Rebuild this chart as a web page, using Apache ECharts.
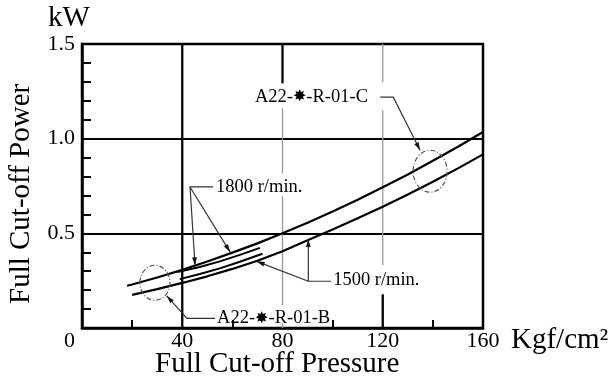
<!DOCTYPE html>
<html>
<head>
<meta charset="utf-8">
<script src="https://cdn.jsdelivr.net/npm/echarts@6/dist/echarts.min.js"></script>
<style>
  html, body { margin: 0; padding: 0; background: #fff; }
  #c { width: 612px; height: 384px; }
</style>
</head>
<body>
<div id="c"></div>
<script>
// Full cut-off power vs. full cut-off pressure (A22 pumps)
const xTickValues = [0, 40, 80, 120, 160];
const yTickValues = [0, 0.5, 1.0, 1.5];

// A22-R-01-C, full range
const pressure1800 = [18, 20, 30, 40, 50, 60, 70, 80, 90, 100, 110, 120, 130, 140, 150, 160];
const power1800 = [0.223, 0.230, 0.267, 0.307, 0.351, 0.398, 0.447, 0.500, 0.556, 0.615, 0.677, 0.743, 0.811, 0.883, 0.957, 1.035];
const pressure1500 = [20, 30, 40, 50, 60, 70, 80, 90, 100, 110, 120, 130, 140, 150, 160];
const power1500 = [0.175, 0.205, 0.238, 0.273, 0.312, 0.355, 0.405, 0.463, 0.520, 0.580, 0.641, 0.705, 0.772, 0.843, 0.917];

// A22-R-01-B, short range
const pressureB1800 = [38, 47, 55, 63, 71];
const powerB1800 = [0.295, 0.322, 0.352, 0.386, 0.423];
const pressureB1500 = [39, 47, 55, 63, 72];
const powerB1500 = [0.258, 0.285, 0.315, 0.350, 0.392];

// vertical rule pieces [pressure, fromPower, toPower]
const solidRules = [[40, 0, 1.5], [80, 1.5, 1.292], [120, 0.178, 0]];
const faintRules = [[80, 1.161, 0.817], [80, 0.696, 0.120], [80, 0.025, 0], [120, 1.5, 1.298], [120, 1.15, 0.331]];

// group rings [pressure, power]
const ringCentres = [[29.1, 0.239], [138.9, 0.828]];

// callout leaders, points in [pressure, power]; arrowhead at the last point
const callouts = [
  [[119.0, 1.219], [124.2, 1.219], [134.9, 0.939]],
  [[52.3, 0.745], [43.1, 0.745], [45.1, 0.331]],
  [[43.1, 0.745], [59.1, 0.401]],
  [[99.4, 0.247], [90.3, 0.247], [90.3, 0.470]],
  [[90.3, 0.247], [69.7, 0.352]],
  [[53.1, 0.051], [41.9, 0.051], [33.8, 0.170]]
];

const noteTexts = ['A22-{s|✸}-R-01-C', '1800 r/min.', '1500 r/min.', 'A22-{s|✸}-R-01-B'];
const noteAnchors = [[69.0, 1.219], [53.5, 0.746], [100.2, 0.252], [53.9, 0.051]];

const serif = '"Liberation Serif", "Times New Roman", serif';
const zip = (xs, ys) => xs.map((x, i) => [x, ys[i]]);

const chart = echarts.init(document.getElementById('c'), null, { renderer: 'canvas' });

function ruleSeries(rules, colour, width) {
  return {
    type: 'custom',
    silent: true,
    z: 1,
    data: rules.map(r => [r[0], r[1]]),
    renderItem: (params, api) => {
      const r = rules[params.dataIndex];
      const a = api.coord([r[0], r[1]]);
      const b = api.coord([r[0], r[2]]);
      return {
        type: 'line',
        shape: { x1: a[0], y1: a[1], x2: b[0], y2: b[1] },
        style: { stroke: colour, lineWidth: width }
      };
    }
  };
}

function curve(xs, ys, width) {
  return {
    type: 'line',
    data: zip(xs, ys),
    showSymbol: false,
    symbol: 'none',
    silent: true,
    z: 5,
    lineStyle: { color: '#000', width: width }
  };
}

chart.setOption({
  animation: false,
  grid: {
    left: 82, right: 129, top: 44, bottom: 56,
    show: true, borderColor: '#000', borderWidth: 2.5, backgroundColor: 'transparent'
  },
  xAxis: {
    type: 'value', min: 0, max: 160, interval: 40,
    axisLine: { lineStyle: { color: '#000', width: 2.5 } },
    axisTick: { show: false, inside: true },
    minorTick: { show: true, splitNumber: 2, length: 8, lineStyle: { color: '#000', width: 2 } },
    splitLine: { show: false },
    axisLabel: {
      margin: 2, color: '#000', fontFamily: serif, fontSize: 22,
      formatter: v => xTickValues.includes(v) ? (v === 0 ? '{z|0}' : String(v)) : '',
      rich: { z: { fontFamily: serif, fontSize: 22, color: '#000', padding: [0, 25, 0, 0] } }
    }
  },
  yAxis: {
    type: 'value', min: 0, max: 1.5, interval: 0.5,
    axisLine: { lineStyle: { color: '#000', width: 2.5 } },
    axisTick: { show: false, inside: true },
    minorTick: { show: true, splitNumber: 5, length: 9, lineStyle: { color: '#000', width: 2 } },
    splitLine: { show: true, lineStyle: { color: '#000', width: 2.2 } },
    axisLabel: {
      margin: 7, color: '#000', fontFamily: serif, fontSize: 22,
      formatter: v => (v !== 0 && yTickValues.includes(v)) ? v.toFixed(1) : ''
    }
  },
  graphic: [
    { type: 'text', left: 48, top: 4, style: { text: 'kW', font: '29px ' + serif, fill: '#000' } },
    { type: 'text', left: 511, top: 326, style: { text: 'Kgf/cm²', font: '29px ' + serif, fill: '#000' } },
    { type: 'text', left: 155, top: 350, style: { text: 'Full Cut-off Pressure', font: '29px ' + serif, fill: '#000' } },
    {
      type: 'text', x: 7, y: 304, rotation: Math.PI / 2,
      style: { text: 'Full Cut-off Power', font: '29px ' + serif, fill: '#000', align: 'left', verticalAlign: 'top' }
    }
  ],
  series: [
    ruleSeries(solidRules, '#000', 2.3),
    ruleSeries(faintRules, '#9a9a9a', 1.3),
    curve(pressure1800, power1800, 2.2),
    curve(pressure1500, power1500, 2.2),
    curve(pressureB1800, powerB1800, 2),
    curve(pressureB1500, powerB1500, 2),
    {
      type: 'custom',
      silent: true,
      z: 6,
      data: ringCentres,
      renderItem: (params, api) => {
        const c = api.coord(ringCentres[params.dataIndex]);
        const big = params.dataIndex === 1;
        return {
          type: 'ellipse',
          shape: { cx: c[0], cy: c[1], rx: big ? 17 : 15, ry: big ? 21 : 17.5 },
          style: { fill: 'none', stroke: '#555', lineWidth: 1.2, lineDash: [5, 2, 1, 2] }
        };
      }
    },
    {
      type: 'custom',
      silent: true,
      z: 7,
      data: callouts.map(c => c[0]),
      renderItem: (params, api) => {
        const pts = callouts[params.dataIndex].map(p => api.coord(p));
        const n = pts.length;
        const tip = pts[n - 1], prev = pts[n - 2];
        const dx = tip[0] - prev[0], dy = tip[1] - prev[1];
        const len = Math.hypot(dx, dy);
        const ux = dx / len, uy = dy / len;
        const headLen = 8, half = 2.4;
        const bx = tip[0] - ux * headLen, by = tip[1] - uy * headLen;
        return {
          type: 'group',
          children: [
            { type: 'polyline', shape: { points: pts }, style: { fill: 'none', stroke: '#333', lineWidth: 1.2 } },
            {
              type: 'polygon',
              shape: { points: [tip, [bx - uy * half, by + ux * half], [bx + uy * half, by - ux * half]] },
              style: { fill: '#111' }
            }
          ]
        };
      }
    },
    {
      type: 'custom',
      silent: true,
      z: 8,
      data: noteAnchors,
      renderItem: (params, api) => {
        const p = api.coord(noteAnchors[params.dataIndex]);
        return {
          type: 'text',
          style: {
            text: noteTexts[params.dataIndex],
            x: p[0], y: p[1],
            font: '18.5px ' + serif,
            fill: '#000',
            align: 'left',
            verticalAlign: 'middle',
            rich: { s: { fontFamily: '"DejaVu Sans"', fontSize: 16, fill: '#000', color: '#000' } }
          }
        };
      }
    }
  ]
});
</script>
</body>
</html>
